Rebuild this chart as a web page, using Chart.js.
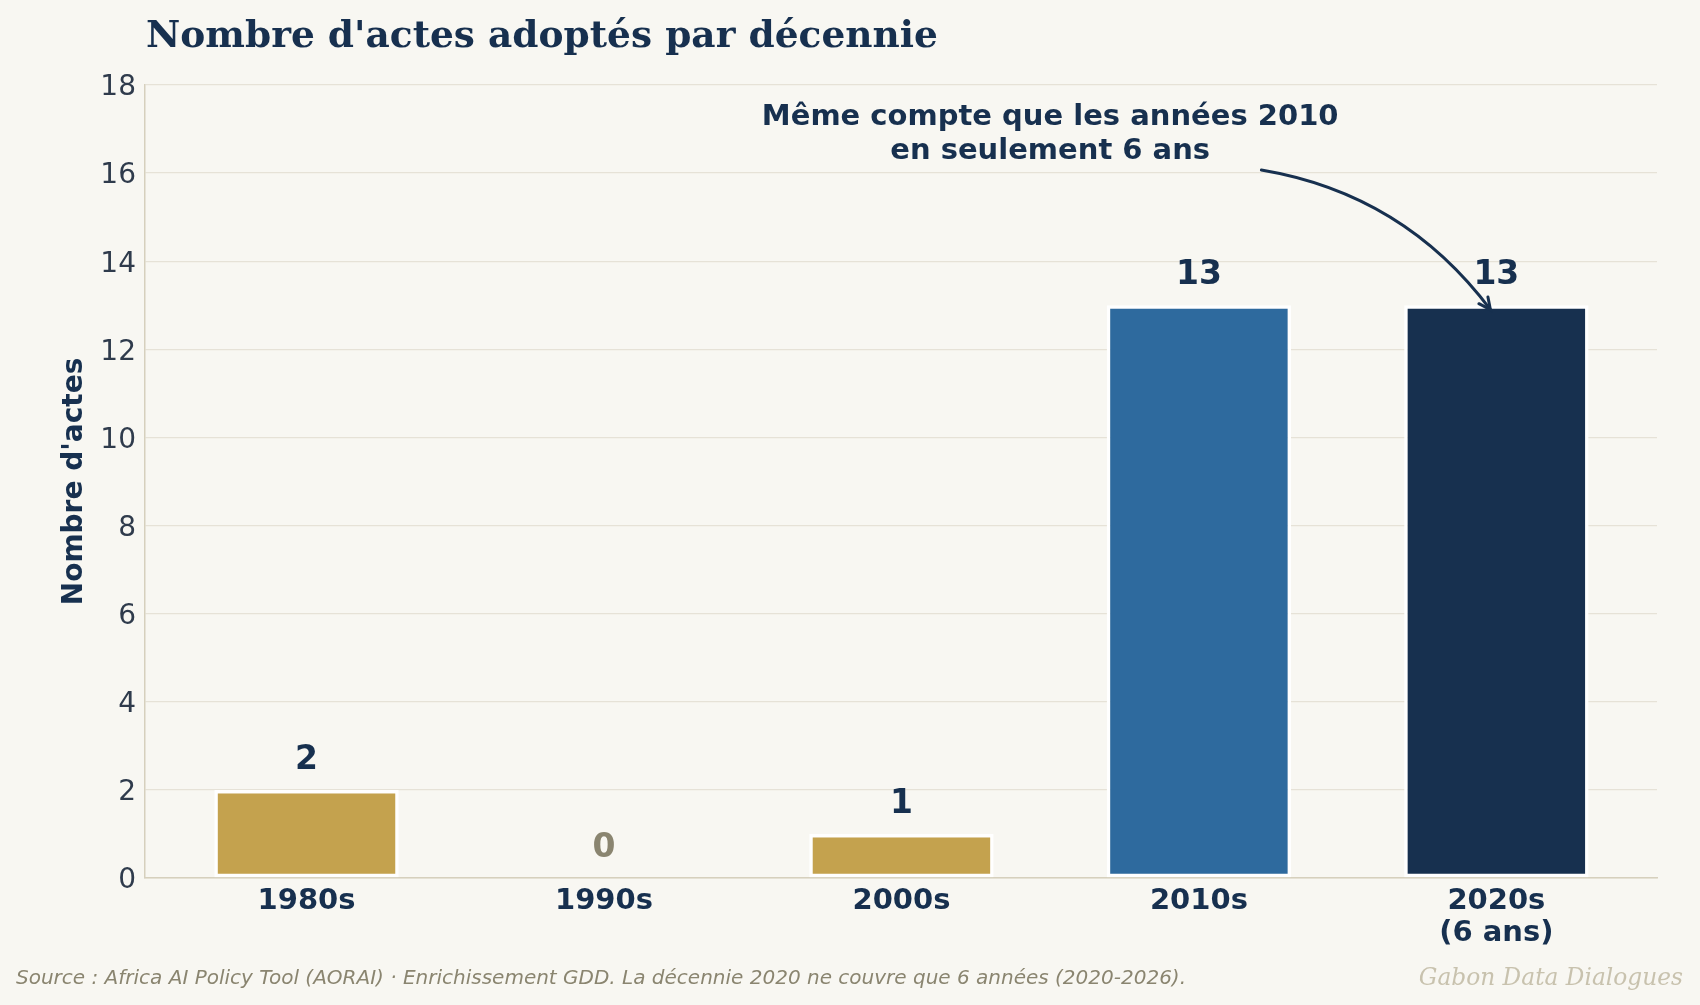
<!DOCTYPE html>
<html lang="fr">
<head>
<meta charset="utf-8">
<title>Nombre d'actes adoptés par décennie</title>
<script src="https://cdn.jsdelivr.net/npm/chart.js@4.4.1/dist/chart.umd.min.js"></script>
<style>
	html, body { margin: 0; padding: 0; background: #f8f7f2; }
	#wrap { width: 1700px; height: 1005px; position: relative; }
</style>
</head>
<body>
<div id="wrap"><canvas id="chart"></canvas></div>
<script>
// data
const decades = [["1980s"], ["1990s"], ["2000s"], ["2010s"], ["2020s", "(6 ans)"]];
const acts = [2, 0, 1, 13, 13];
const yMin = 0;
const yMax = 18;
const yStep = 2;

const titleText = "Nombre d'actes adoptés par décennie";
const yTitle = "Nombre d'actes";
const noteLines = ["Même compte que les années 2010", "en seulement 6 ans"];
const sourceText = "Source : Africa AI Policy Tool (AORAI) · Enrichissement GDD. La décennie 2020 ne couvre que 6 années (2020-2026).";
const brandText = "Gabon Data Dialogues";

const NAVY = "#17304f";
const GOLD = "#c4a24e";
const BLUE = "#2e6a9e";
const BG = "#f8f7f2";
const barColors = [GOLD, GOLD, GOLD, BLUE, NAVY];


const backgroundPlugin = {
	id: "background",
	beforeDraw(chart) {
		const ctx = chart.ctx;
		ctx.save();
		ctx.fillStyle = BG;
		ctx.fillRect(0, 0, chart.width, chart.height);
		ctx.restore();
	}
};

function drawArrow(ctx, sx, sy, ex, ey, rad) {
	const mx = (sx + ex) / 2, my = (sy + ey) / 2;
	const dx = ex - sx, dy = ey - sy;
	const cx = mx + rad * dy, cy = my - rad * dx;

	ctx.beginPath();
	ctx.moveTo(sx, sy);
	ctx.quadraticCurveTo(cx, cy, ex, ey);
	ctx.stroke();

	// head
	const ang = Math.atan2(ey - cy, ex - cx);
	const len = 13;
	ctx.beginPath();
	ctx.moveTo(ex - len * Math.cos(ang - 0.45), ey - len * Math.sin(ang - 0.45));
	ctx.lineTo(ex, ey);
	ctx.lineTo(ex - len * Math.cos(ang + 0.45), ey - len * Math.sin(ang + 0.45));
	ctx.stroke();
}

const decorPlugin = {
	id: "decor",
	afterDatasetsDraw(chart) {
		const { ctx, scales: { x, y } } = chart;
		ctx.save();

		// value labels above bars
		ctx.font = "bold 33px 'DejaVu Sans'";
		ctx.textAlign = "center";
		ctx.textBaseline = "alphabetic";
		acts.forEach((v, i) => {
			ctx.fillStyle = v === 0 ? "#8a8570" : NAVY;
			ctx.fillText(String(v), x.getPixelForValue(i), y.getPixelForValue(v) - 21);
		});

		// annotation on the 2020s bar
		ctx.fillStyle = NAVY;
		ctx.font = "bold 29px 'DejaVu Sans'";
		const tx = x.getPixelForValue(2.5);
		const ty = y.getPixelForValue(17.1);
		noteLines.forEach((line, k) => ctx.fillText(line, tx, ty + k * 34));

		ctx.strokeStyle = NAVY;
		ctx.lineWidth = 3;
		ctx.lineCap = "round";
		drawArrow(ctx,
			x.getPixelForValue(3.21), y.getPixelForValue(16.07),
			x.getPixelForValue(3.98), y.getPixelForValue(12.9), 0.2);

		ctx.restore();
	},
	afterDraw(chart) {
		const ctx = chart.ctx;
		ctx.save();
		ctx.textBaseline = "alphabetic";

		ctx.fillStyle = NAVY;
		ctx.textAlign = "left";
		ctx.font = "bold 37.5px 'DejaVu Serif'";
		ctx.fillText(titleText, 146, 47);

		ctx.fillStyle = "#8a8570";
		ctx.font = "italic 20px 'DejaVu Sans'";
		ctx.fillText(sourceText, 16, 984);

		ctx.fillStyle = "#c8c2ae";
		ctx.textAlign = "right";
		ctx.font = "italic 23.3px 'DejaVu Serif'";
		ctx.fillText(brandText, 1683, 985);

		ctx.restore();
	}
};

function buildChart() {
	const ctx = document.getElementById("chart").getContext("2d");

	new Chart(ctx, {
		type: "bar",
		data: {
			datasets: [{
				data: acts.map((v, i) => ({ x: i, y: v })),
				backgroundColor: barColors,
				borderColor: "#ffffff",
				borderWidth: 3.5,
				borderSkipped: false,
				categoryPercentage: 1,
				barPercentage: 0.62
			}]
		},
		options: {
			responsive: true,
			maintainAspectRatio: false,
			animation: false,
			layout: { padding: { left: 58, right: 43, top: 85, bottom: 0 } },
			plugins: {
				legend: { display: false },
				tooltip: { enabled: false }
			},
			scales: {
				x: {
					type: "linear",
					offset: false,
					min: -0.543,
					max: 4.54,
					afterBuildTicks: (scale) => { scale.ticks = decades.map((_, i) => ({ value: i })); },
					afterFit: (scale) => { scale.height = 127; },
					grid: { display: false, drawTicks: false },
					border: { color: "#d6d0bd", width: 1.5 },
					ticks: {
						autoSkip: false,
						maxRotation: 0,
						padding: 7,
						color: NAVY,
						font: { family: "'DejaVu Sans'", size: 29, weight: "bold", lineHeight: 1.12 },
						callback: (v) => decades[v]
					}
				},
				y: {
					min: yMin,
					max: yMax,
					afterFit: (scale) => { scale.width = 87; },
					grid: { color: "#e6e2d7", lineWidth: 1.3, drawTicks: false },
					border: { color: "#d6d0bd", width: 1.5 },
					ticks: {
						stepSize: yStep,
						padding: 9,
						labelOffset: 3,
						color: "#2f3b4c",
						font: { family: "'DejaVu Sans'", size: 28 }
					},
					title: {
						display: true,
						text: yTitle,
						color: NAVY,
						padding: 0,
						font: { family: "'DejaVu Sans'", size: 28, weight: "bold", lineHeight: 1.2 }
					}
				}
			}
		},
		plugins: [backgroundPlugin, decorPlugin]
	});
}

buildChart();
</script>
</body>
</html>
